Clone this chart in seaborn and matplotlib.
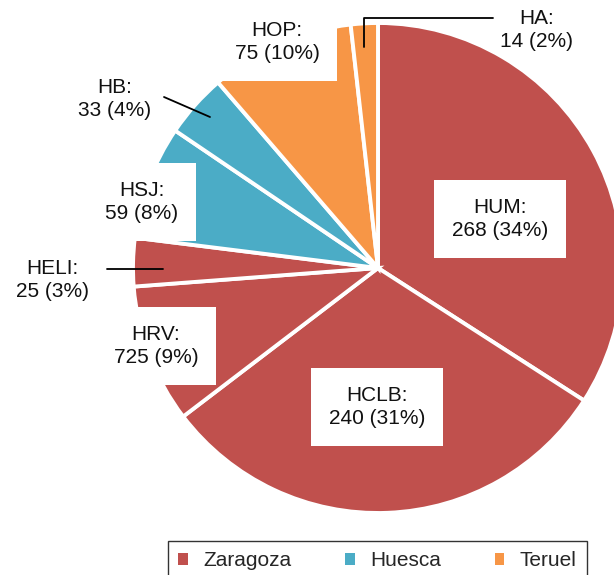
import matplotlib
matplotlib.use("Agg")
import matplotlib.pyplot as plt
from matplotlib.patches import Patch
import seaborn as sns

# === Data (clockwise from 12 o'clock) ===
hospitals = ["HUM", "HCLB", "HRV", "HELI", "HSJ", "HB", "HOP", "HA"]
patients = [268, 240, 72, 25, 59, 33, 75, 14]
shown_counts = [268, 240, 725, 25, 59, 33, 75, 14]  # as printed on the original
provinces = ["Zaragoza", "Zaragoza", "Zaragoza", "Zaragoza", "Huesca", "Huesca", "Teruel", "Teruel"]
province_order = ["Zaragoza", "Huesca", "Teruel"]

# === Style ===
sns.set_theme(style="white")
plt.rcParams["font.family"] = ["Liberation Sans", "DejaVu Sans"]
palette = dict(zip(province_order, sns.color_palette(["#C0504D", "#4BACC6", "#F79646"])))

W, H = 614, 575


def px(x, y):
    # image pixel coords (origin top-left) -> axes data coords
    return x, H - y


fig = plt.figure(figsize=(W / 100, H / 100), dpi=100)
ax = fig.add_axes([0, 0, 1, 1])

ax.pie(
    patients,
    colors=[palette[p] for p in provinces],
    startangle=90,
    counterclock=False,
    center=px(378, 268),
    radius=245,
    wedgeprops=dict(edgecolor="white", linewidth=2.8),
)
ax.set_xlim(0, W)
ax.set_ylim(0, H)
ax.set_aspect("equal")
ax.axis("off")

# === Labels ===
total = sum(patients)
label_pos = {
    "HUM": (500, 219), "HCLB": (377, 407), "HRV": (156, 346), "HELI": (52, 280),
    "HSJ": (142, 202), "HB": (115, 99), "HOP": (277, 42), "HA": (537, 30),
}
boxed = {"HUM", "HCLB", "HRV", "HSJ", "HOP"}
for name, n_shown, n in zip(hospitals, shown_counts, patients):
    pct = round(100 * n / total)
    x, y = px(*label_pos[name])
    bbox = dict(boxstyle="square,pad=0.85", fc="white", ec="none") if name in boxed else None
    ax.text(x, y, f"{name}:\n{n_shown} ({pct}%)", ha="center", va="center",
            fontsize=15, linespacing=1.3, color="#111111", bbox=bbox, zorder=5)

# leader lines
leaders = [
    [(364, 47), (364, 18), (493, 18)],
    [(164, 97), (210, 117)],
    [(107, 269), (163, 269)],
]
for pts in leaders:
    xs, ys = zip(*[px(*p) for p in pts])
    ax.plot(xs, ys, color="black", lw=1.3, zorder=6)

# === Legend ===
handles = [Patch(facecolor=palette[p], edgecolor="none", label=p) for p in province_order]
leg = fig.legend(
    handles=handles, ncol=3, loc="upper left", mode="expand",
    bbox_to_anchor=(168 / W, 0, 419 / W, 1 - 541 / H),
    fontsize=15, handlelength=0.45, handleheight=0.45, handletextpad=0.75,
    borderpad=0.5, borderaxespad=0, fancybox=False, framealpha=1,
)
leg.get_frame().set_edgecolor("#333333")
leg.get_frame().set_linewidth(1.0)

fig.savefig("out.png", dpi=100)
